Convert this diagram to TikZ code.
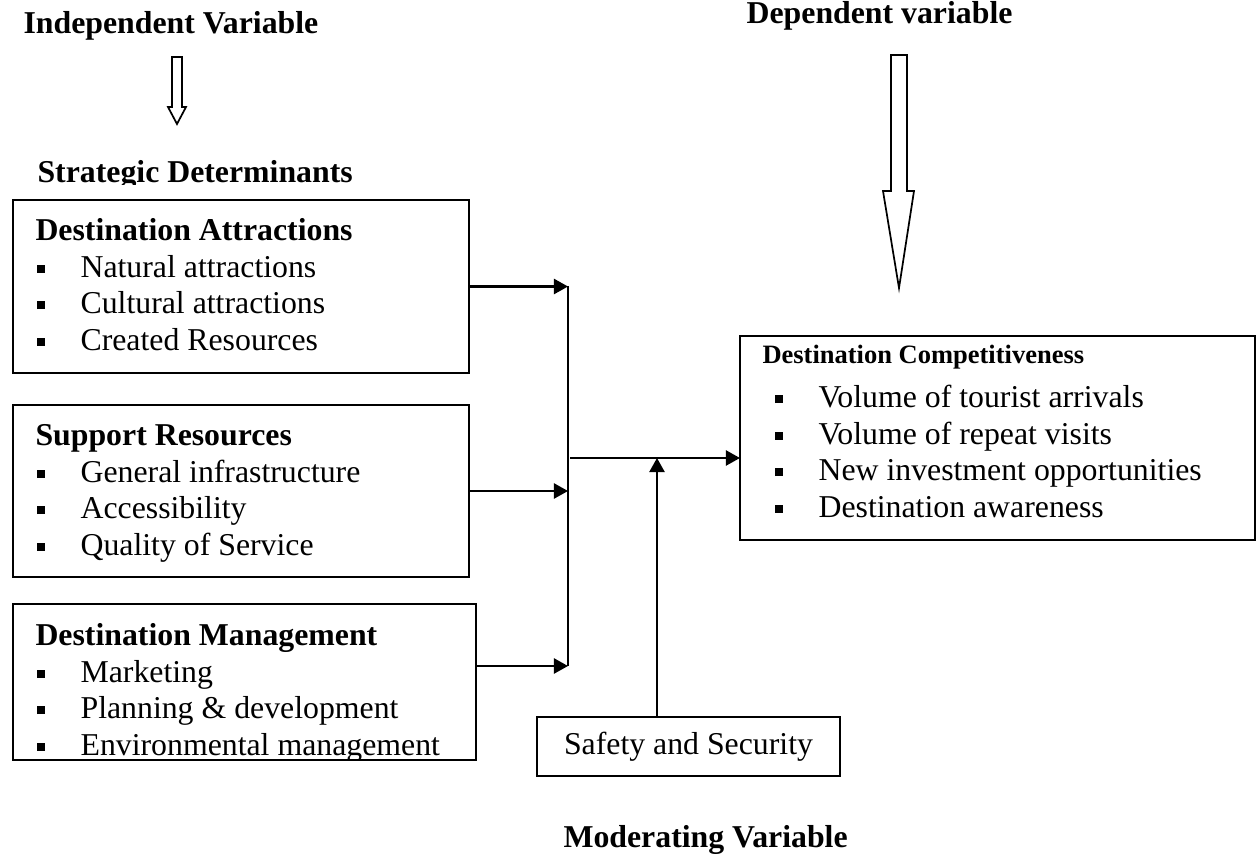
\documentclass[tikz,border=0pt]{standalone}
\usepackage{fontspec}
\setmainfont{Liberation Serif}
\usetikzlibrary{arrows.meta}
\newcommand{\sqitem}[2][0pt]{\hspace*{#1}\makebox[17pt][l]{\hspace{0.6pt}\rule[1.7pt]{3pt}{3pt}}#2}

\begin{document}
\begin{tikzpicture}[x=0.3774pt, y=-0.3774pt]
% Style definitions
\tikzset{
    frame/.style={draw, line width=0.65pt, inner sep=0pt, outer sep=0pt},
    boxtext/.style={anchor=north west, inner sep=0pt, align=left,
                    font=\fontsize{12}{13.8}\selectfont},
    heading/.style={anchor=base west, inner sep=0pt,
                    font=\fontsize{12}{13.8}\selectfont\bfseries},
    conn/.style={line width=0.8pt, -{Triangle[length=5.3pt, width=5.7pt]}},
    blockarrow/.style={draw, line width=0.65pt, miter limit=20}
}
\useasboundingbox (0,0) rectangle (1256,857);

% Variable headings
\node[heading] (indep) at (23,33) {Independent Variable};
\node[heading, anchor=base east] (dep) at (1013,23) {Dependent variable};
\begin{scope}
\clip (0,140) rectangle (420,184);
\node[heading] (strat) at (37,182) {Strategic Determinants};
\end{scope}
\node[heading] (moder) at (563,847) {Moderating Variable};

% Hollow block arrows
\draw[blockarrow] (172,57) -- (182,57) -- (182,107) -- (186,107) -- (177,124)
    -- (168,107) -- (172,107) -- cycle;
\draw[blockarrow] (891,55) -- (907,55) -- (907,191) -- (914,191) -- (899,288)
    -- (883,191) -- (891,191) -- cycle;

% Strategic determinant boxes
\node[frame, minimum width=172.1pt, minimum height=65.3pt] (attr) at (241,286.5) {};
\node[boxtext] (attr-txt) at (35,213.5) {\rule{0pt}{10pt}\textbf{Destination Attractions}\\
    \sqitem{Natural attractions}\\
    \sqitem{Cultural attractions}\\
    \sqitem{Created Resources}};

\node[frame, minimum width=172.1pt, minimum height=64.9pt] (supp) at (241,491) {};
\node[boxtext] (supp-txt) at (35,418.5) {\rule{0pt}{10pt}\textbf{Support Resources}\\
    \sqitem{General infrastructure}\\
    \sqitem{Accessibility}\\
    \sqitem{Quality of Service}};

\node[frame, minimum width=174.7pt, minimum height=58.9pt] (mgmt) at (244.5,682) {};
\begin{scope}
\clip (13,604) rectangle (476,760);
\node[boxtext] (mgmt-txt) at (35,618.5) {\rule{0pt}{10pt}\textbf{Destination Management}\\
    \sqitem{Marketing}\\
    \sqitem{Planning \& development}\\
    \sqitem{Environmental management}};
\end{scope}

% Outcome box
\node[frame, minimum width=194.4pt, minimum height=77pt] (comp) at (997.5,438) {};
\node[boxtext] (comp-txt) at (762,336.5) {\rule{0pt}{10pt}{\fontsize{10}{12}\selectfont\bfseries Destination Competitiveness}\\[2.8pt]
    \sqitem[4.15pt]{Volume of tourist arrivals}\\
    \sqitem[4.15pt]{Volume of repeat visits}\\
    \sqitem[4.15pt]{New investment opportunities}\\
    \sqitem[4.15pt]{Destination awareness}};

% Moderator box
\node[frame, minimum width=114.4pt, minimum height=22.3pt,
      font=\fontsize{12}{13.8}\selectfont] (safety) at (688.5,746.5) {Safety and Security};

% Connecting arrows
\coordinate (bartop) at (568,286);
\coordinate (barbot) at (568,666);
\coordinate (junc) at (570,458);
\coordinate (mod) at (657,458);

\draw[conn] (attr.east) -- (attr.east -| bartop);
\draw[conn] (supp.east) -- (supp.east -| bartop);
\draw[conn] (barbot -| mgmt.east) -- (barbot);
\draw[line width=0.8pt] (bartop) -- (barbot);
\draw[conn] (junc) -- (junc -| comp.west);
\draw[conn] (safety.north -| mod) -- (mod);

\end{tikzpicture}
\end{document}
